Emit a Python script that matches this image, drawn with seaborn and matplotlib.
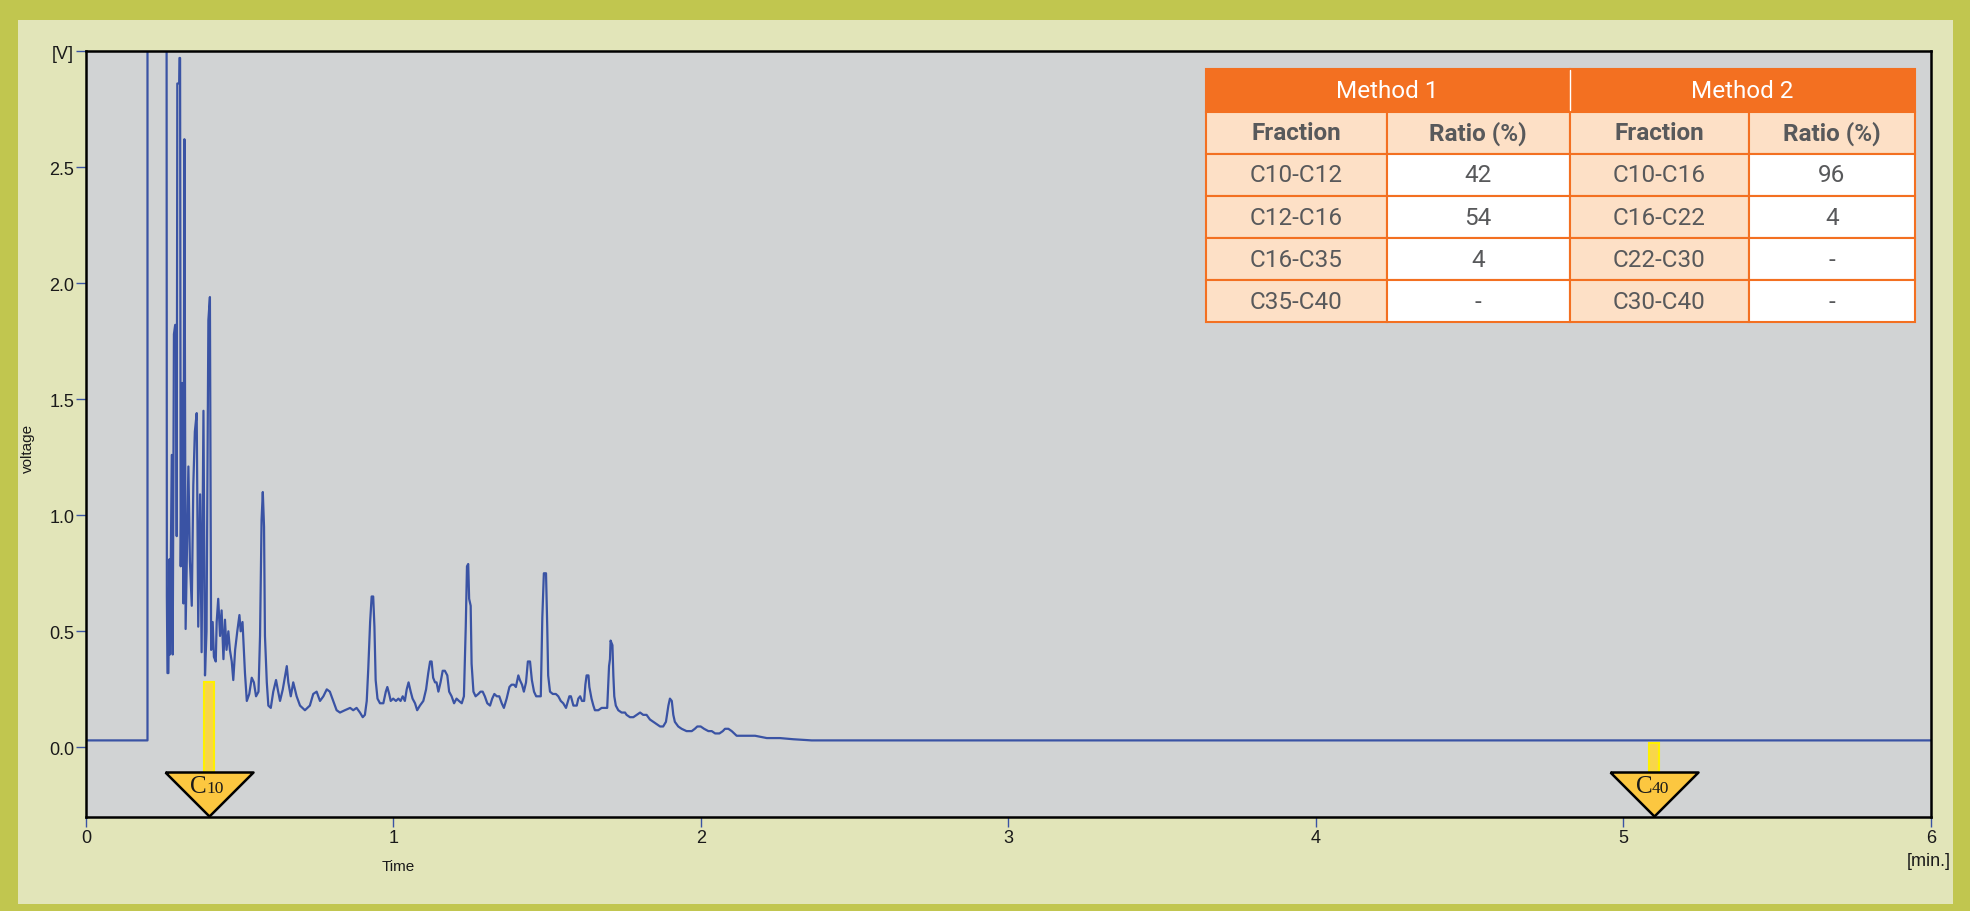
import matplotlib
matplotlib.use("Agg")
import matplotlib.pyplot as plt
import seaborn as sns
import pandas as pd

sns.set_style("ticks")
plt.rcParams['font.family'] = ['Liberation Sans', 'DejaVu Sans']

# chromatogram trace, time in min, voltage in V
TIME = [0.00, 0.20, 0.20, 0.262, 0.263, 0.265, 0.268, 0.271, 0.273, 0.279,
        0.282, 0.286, 0.290, 0.293, 0.295, 0.297, 0.303, 0.304, 0.306, 0.308,
        0.313, 0.317, 0.320, 0.324, 0.333, 0.338, 0.344, 0.349, 0.354, 0.360,
        0.365, 0.371, 0.376, 0.382, 0.387, 0.392, 0.398, 0.403, 0.407, 0.412,
        0.416, 0.422, 0.425, 0.430, 0.436, 0.441, 0.447, 0.452, 0.457, 0.463,
        0.468, 0.474, 0.479, 0.485, 0.492, 0.499, 0.503, 0.509, 0.517, 0.523,
        0.531, 0.539, 0.546, 0.553, 0.561, 0.566, 0.571, 0.575, 0.579, 0.582,
        0.588, 0.593, 0.601, 0.609, 0.618, 0.625, 0.631, 0.640, 0.653, 0.658,
        0.666, 0.674, 0.685, 0.696, 0.712, 0.728, 0.739, 0.750, 0.761, 0.772,
        0.783, 0.793, 0.804, 0.815, 0.826, 0.842, 0.859, 0.869, 0.880, 0.891,
        0.900, 0.907, 0.913, 0.918, 0.924, 0.929, 0.934, 0.938, 0.942, 0.948,
        0.956, 0.967, 0.975, 0.980, 0.986, 0.991, 0.999, 1.008, 1.016, 1.023,
        1.030, 1.037, 1.043, 1.049, 1.056, 1.062, 1.070, 1.077, 1.086, 1.097,
        1.106, 1.113, 1.119, 1.124, 1.129, 1.135, 1.140, 1.146, 1.153, 1.160,
        1.167, 1.175, 1.181, 1.189, 1.197, 1.205, 1.213, 1.222, 1.229, 1.235,
        1.239, 1.243, 1.246, 1.251, 1.254, 1.260, 1.267, 1.276, 1.283, 1.290,
        1.297, 1.305, 1.314, 1.321, 1.328, 1.336, 1.344, 1.352, 1.359, 1.368,
        1.377, 1.384, 1.392, 1.398, 1.406, 1.411, 1.418, 1.424, 1.431, 1.437,
        1.444, 1.450, 1.457, 1.464, 1.471, 1.479, 1.484, 1.489, 1.496, 1.500,
        1.503, 1.509, 1.518, 1.528, 1.536, 1.544, 1.552, 1.561, 1.572, 1.577,
        1.585, 1.596, 1.601, 1.607, 1.613, 1.620, 1.624, 1.628, 1.634, 1.637,
        1.644, 1.650, 1.655, 1.666, 1.677, 1.688, 1.695, 1.701, 1.704, 1.706,
        1.712, 1.715, 1.718, 1.723, 1.731, 1.742, 1.753, 1.758, 1.769, 1.780,
        1.791, 1.802, 1.812, 1.823, 1.834, 1.845, 1.856, 1.867, 1.877, 1.886,
        1.894, 1.899, 1.905, 1.910, 1.915, 1.926, 1.937, 1.953, 1.970, 1.980,
        1.988, 1.999, 2.010, 2.024, 2.035, 2.046, 2.060, 2.071, 2.078, 2.089,
        2.100, 2.116, 2.133, 2.149, 2.176, 2.214, 2.257, 2.300, 2.360, 6.00]
VOLTAGE = [0.03, 0.03, 3.40, 3.40, 0.65, 0.32, 0.32, 0.81, 0.40, 1.26,
           0.40, 1.78, 1.82, 1.82, 0.91, 2.86, 2.86, 2.97, 2.97, 0.78,
           1.57, 0.62, 2.62, 0.51, 1.21, 0.80, 0.61, 1.13, 1.36, 1.44,
           0.52, 1.09, 0.41, 1.45, 0.31, 0.50, 1.84, 1.94, 0.42, 0.54,
           0.39, 0.37, 0.54, 0.64, 0.48, 0.59, 0.38, 0.55, 0.42, 0.50,
           0.42, 0.37, 0.29, 0.42, 0.50, 0.57, 0.50, 0.54, 0.32, 0.20,
           0.23, 0.30, 0.28, 0.22, 0.24, 0.48, 0.98, 1.10, 0.95, 0.48,
           0.28, 0.18, 0.17, 0.24, 0.29, 0.24, 0.20, 0.25, 0.35, 0.28,
           0.22, 0.28, 0.22, 0.18, 0.16, 0.18, 0.23, 0.24, 0.20, 0.22,
           0.25, 0.24, 0.20, 0.16, 0.15, 0.16, 0.17, 0.16, 0.17, 0.15,
           0.13, 0.14, 0.20, 0.34, 0.54, 0.65, 0.65, 0.52, 0.29, 0.21,
           0.19, 0.19, 0.24, 0.26, 0.23, 0.20, 0.21, 0.20, 0.21, 0.20,
           0.22, 0.20, 0.25, 0.28, 0.24, 0.21, 0.19, 0.16, 0.18, 0.20,
           0.25, 0.32, 0.37, 0.37, 0.30, 0.28, 0.28, 0.24, 0.28, 0.33,
           0.33, 0.31, 0.24, 0.22, 0.19, 0.21, 0.20, 0.19, 0.22, 0.52,
           0.78, 0.79, 0.64, 0.61, 0.36, 0.24, 0.22, 0.23, 0.24, 0.24,
           0.22, 0.19, 0.18, 0.21, 0.23, 0.22, 0.22, 0.19, 0.17, 0.21,
           0.26, 0.27, 0.27, 0.26, 0.31, 0.29, 0.27, 0.24, 0.28, 0.37,
           0.37, 0.29, 0.24, 0.22, 0.22, 0.22, 0.56, 0.75, 0.75, 0.52,
           0.31, 0.24, 0.23, 0.23, 0.22, 0.20, 0.19, 0.17, 0.22, 0.22,
           0.18, 0.18, 0.21, 0.22, 0.20, 0.20, 0.27, 0.31, 0.31, 0.26,
           0.21, 0.18, 0.16, 0.16, 0.17, 0.17, 0.17, 0.35, 0.38, 0.46,
           0.44, 0.31, 0.22, 0.18, 0.16, 0.15, 0.15, 0.14, 0.13, 0.13,
           0.14, 0.15, 0.14, 0.14, 0.12, 0.11, 0.10, 0.09, 0.09, 0.11,
           0.18, 0.21, 0.20, 0.14, 0.11, 0.09, 0.08, 0.07, 0.07, 0.08,
           0.09, 0.09, 0.08, 0.07, 0.07, 0.06, 0.06, 0.07, 0.08, 0.08,
           0.07, 0.05, 0.05, 0.05, 0.05, 0.04, 0.04, 0.035, 0.03, 0.03]

# retention markers
MARKER_TIMES = [0.40, 5.10]
MARKER_TOPS = [0.28, 0.02]
MARKER_LABELS = ["10", "40"]
MARKER_BASE = -0.108
LABEL_Y = -0.194

# table
METHODS = ["Method 1", "Method 2"]
SUB_HEADERS = ["Fraction", "Ratio (%)", "Fraction", "Ratio (%)"]
M1_FRACTIONS = ["C10-C12", "C12-C16", "C16-C35", "C35-C40"]
M1_RATIOS = ["42", "54", "4", "-"]
M2_FRACTIONS = ["C10-C16", "C16-C22", "C22-C30", "C30-C40"]
M2_RATIOS = ["96", "4", "-", "-"]

Y_TICKS = [0.0, 0.5, 1.0, 1.5, 2.0, 2.5, 3.0]
Y_TICK_LABELS = ["0.0", "0.5", "1.0", "1.5", "2.0", "2.5", "[V]"]
X_TICKS = [0, 1, 2, 3, 4, 5, 6]

BLUE = "#3a53a4"
ORANGE = "#f37021"
PEACH = "#fde0c6"
TEXT_GREY = "#58595b"

fig = plt.figure(figsize=(19.7, 9.12), dpi=100, facecolor="#c1c64f")
# light inner panel inside the olive frame
bg = fig.add_axes([18 / 1970, 7 / 912, 1935 / 1970, 884 / 912], zorder=-5)
bg.set_facecolor("#e2e5b9")
bg.set_xticks([])
bg.set_yticks([])
for s in bg.spines.values():
    s.set_visible(False)

ax = fig.add_axes([0.04365, 0.10307, 0.93655, 0.8399])
ax.set_facecolor("#d1d3d4")

df = pd.DataFrame({"Time": TIME, "voltage": VOLTAGE})
sns.lineplot(data=df, x="Time", y="voltage", sort=False, estimator=None,
             color=BLUE, lw=1.6, ax=ax, zorder=2)

# yellow bars + triangles
ax.bar(MARKER_TIMES, [top - MARKER_BASE for top in MARKER_TOPS], bottom=MARKER_BASE,
       width=0.034, color="#f8d64a", edgecolor="#fff000", lw=1.5, zorder=3)
tri = [(-1, 0), (1, 0), (0, -1), (-1, 0)]
ax.scatter(MARKER_TIMES, [MARKER_BASE] * len(MARKER_TIMES), marker=tri, s=63.4 ** 2,
           facecolor="#fcc740", edgecolor="black", lw=1.8, zorder=4, clip_on=False)
for t, num in zip(MARKER_TIMES, MARKER_LABELS):
    ax.annotate("C", (t, LABEL_Y), xytext=(-1.5, 0), textcoords="offset points",
                ha="right", va="baseline", fontsize=18, family="Liberation Serif",
                color="#1a1a1a", zorder=5)
    ax.annotate(num, (t, LABEL_Y), xytext=(-1.8, 0), textcoords="offset points",
                ha="left", va="baseline", fontsize=12.5, family="Liberation Serif",
                color="#1a1a1a", zorder=5)

ax.set_xlim(0, 6)
ax.set_ylim(-0.30, 3.0)
ax.set_xticks(X_TICKS)
ax.set_xticklabels([str(x) for x in X_TICKS])
ax.set_yticks(Y_TICKS)
ax.set_yticklabels(Y_TICK_LABELS)
ax.tick_params(direction="out", length=7, width=1, color=BLUE, labelsize=13,
               labelcolor="#1a1a1a", pad=1.5)
for s in ax.spines.values():
    s.set_visible(True)
    s.set_color("black")
    s.set_linewidth(1.8)

ax.set_xlabel("Time", fontsize=11, color="#1a1a1a")
ax.xaxis.set_label_coords(0.169, -0.055)
ax.set_ylabel("voltage", fontsize=11, color="#1a1a1a")
ax.yaxis.set_label_coords(-0.0275, 0.482)
ax.text(0.9989, -0.0574, "[min.]", transform=ax.transAxes, ha="center", va="center",
        fontsize=13, color="#1a1a1a")

# table: header row (merged method cells) + body
x0, w = 0.6068, 0.3845
header = ax.table(cellText=[METHODS], cellLoc="center", colWidths=[364, 345],
                  bbox=[x0, 0.9204, w, 0.0561], zorder=6)
header.auto_set_font_size(False)
for (r, c), cell in header.get_celld().items():
    cell.set_facecolor(ORANGE)
    cell.set_edgecolor(ORANGE)
    cell.set_linewidth(1.5)
    cell.get_text().set_color("white")
    cell.get_text().set_fontsize(17.5)
    cell.get_text().set_fontfamily("Roboto")
x_div = x0 + w * 364 / 709
ax.plot([x_div, x_div], [0.9225, 0.975], transform=ax.transAxes, color="white",
        lw=1, zorder=7, clip_on=False)

rows = [SUB_HEADERS] + [list(r) for r in zip(M1_FRACTIONS, M1_RATIOS, M2_FRACTIONS, M2_RATIOS)]
body = ax.table(cellText=rows, cellLoc="center", colWidths=[181, 183, 179, 166],
                bbox=[x0, 0.6462, w, 0.2742], zorder=6)
body.auto_set_font_size(False)
for (r, c), cell in body.get_celld().items():
    cell.set_facecolor(PEACH if (r == 0 or c in (0, 2)) else "white")
    cell.set_edgecolor(ORANGE)
    cell.set_linewidth(1.5)
    txt = cell.get_text()
    txt.set_color(TEXT_GREY)
    txt.set_fontsize(17.5)
    txt.set_fontfamily("Roboto")
    if r == 0:
        txt.set_fontweight("bold")

fig.savefig("out.png", dpi=100, facecolor=fig.get_facecolor())
